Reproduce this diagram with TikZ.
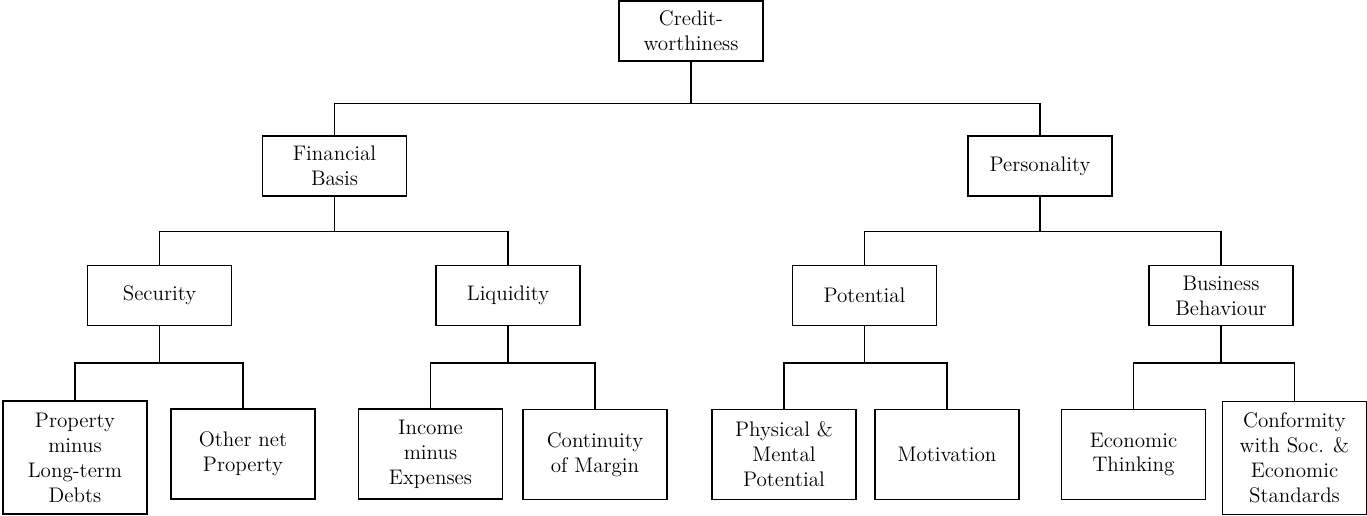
\documentclass[tikz,border=0pt]{standalone}
\usepackage{tikz}

\begin{document}
\begin{tikzpicture}[x=0.02cm, y=-0.02cm, line width=0.8pt,
		box/.style={draw, align=center, inner sep=0pt, minimum width=2.88cm,
			font=\fontsize{12}{14.2}\selectfont},
		small/.style={box, minimum height=1.2cm},
		mid/.style={box, minimum height=1.8cm},
		tall/.style={box, minimum height=2.26cm}]
			\useasboundingbox (0,0) rectangle (1367,516);
			% top and middle levels
			\node[small] (credit) at (691,31) {Credit-\\worthiness};
			\node[small] (fin) at (334.5,166) {Financial\\Basis};
			\node[small] (pers) at (1040,166) {Personality};
			\node[small] (sec) at (159.5,295.5) {Security};
			\node[small] (liq) at (508,295.5) {Liquidity};
			\node[small] (pot) at (864.5,295.5) {Potential};
			\node[small] (bus) at (1221,295.5) {Business\\Behaviour};
			% bottom level
			\node[tall] (prop) at (75,457.5) {Property\\minus\\Long-term\\Debts};
			\node[mid] (other) at (243,454) {Other net\\Property};
			\node[mid] (income) at (430.5,454) {Income\\minus\\Expenses};
			\node[mid] (cont) at (595,454.5) {Continuity\\of Margin};
			\node[mid] (phys) at (784,454.5) {Physical \&\\Mental\\Potential};
			\node[mid] (motiv) at (947,454.5) {Motivation};
			\node[mid] (econ) at (1133.5,454.5) {Economic\\Thinking};
			\node[tall] (conf) at (1294.5,458) {Conformity\\with Soc. \&\\Economic\\Standards};
			\foreach \p/\c/\d in {credit/fin/42, credit/pers/42,
				fin/sec/35, fin/liq/35, pers/pot/35, pers/bus/35,
				sec/prop/37, sec/other/37, liq/income/37, liq/cont/37,
				pot/phys/37, pot/motiv/37, bus/econ/37, bus/conf/37}
				\draw (\p.south) -- ++(0,\d) -| (\c.north);
		\end{tikzpicture}
\end{document}
